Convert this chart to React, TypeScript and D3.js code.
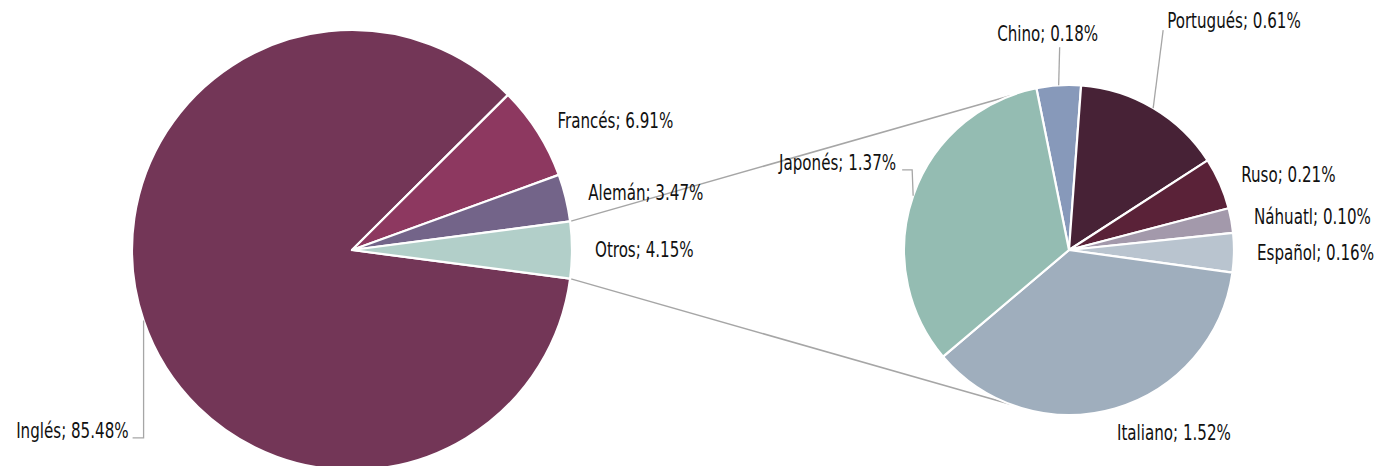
import * as d3 from "d3";

// datos: pie principal
const mainNames = ["Inglés", "Francés", "Alemán", "Otros"];
const mainValues = [85.48, 6.91, 3.47, 4.15];
const mainColors = ["#733657", "#8d3860", "#736489", "#b2cfc9"];

// datos: desglose de "Otros"
const subNames = ["Chino", "Portugués", "Ruso", "Náhuatl", "Español", "Italiano", "Japonés"];
const subValues = [0.18, 0.61, 0.21, 0.1, 0.16, 1.52, 1.37];
const subColors = ["#8799ba", "#472236", "#5a2238", "#a399ab", "#b9c4cf", "#9faebd", "#94bcb2"];

const width = 1377;
const height = 466;
const rad = (deg: number) => (deg * Math.PI) / 180;

const main = { cx: 352, cy: 250, r: 220 };
const sub = { cx: 1069, cy: 250, r: 165, start: -11.4 };
const connectorSpread = 69.2; // grados desde las 9 en punto del pie secundario
const narrow = 0.8; // estrechar la fuente (no hay fuente condensada real)

// etiquetas movidas a mano (relativas al borde del sector)
type Layout = { dx: number; dy: number; anchor: string; leader: [number, number][] };
const labelLayout: Record<string, Layout> = {
  Inglés: { dx: -15, dy: 117.5, anchor: "end", leader: [[0, 0], [0, 117.5], [-11, 117.5]] },
  Chino: { dx: -11, dy: -44, anchor: "middle", leader: [[0, 0], [1, -38]] },
  Portugués: { dx: 14, dy: -80, anchor: "start", leader: [[0, 0], [10, -78]] },
  Japonés: { dx: -17, dy: -26, anchor: "end", leader: [[0, 0], [-1, -26], [-11, -26]] },
  Italiano: { dx: 2, dy: 32, anchor: "start", leader: [] },
};

const fmt = (v: number) => d3.format(".2f")(v) + "%";
const edge = (a: number, r: number) => [r * Math.sin(a), -r * Math.cos(a)];

type Slice = { name: string; value: number; color: string };

function Label({ x, y, anchor, dy, children }: { x: number; y: number; anchor: string; dy?: string; children: string }) {
  return (
    <text transform={`translate(${x},${y}) scale(${narrow},1)`} textAnchor={anchor} dy={dy}>
      {children}
    </text>
  );
}

function PieGroup({ data, cx, cy, r, startAngle }: { data: Slice[]; cx: number; cy: number; r: number; startAngle: number }) {
  const pie = d3
    .pie<Slice>()
    .sort(null)
    .value((d) => d.value)
    .startAngle(startAngle)
    .endAngle(startAngle + 2 * Math.PI);
  const arc = d3.arc<d3.PieArcDatum<Slice>>().innerRadius(0).outerRadius(r);
  const arcs = pie(data);
  const line = d3.line();

  return (
    <g transform={`translate(${cx},${cy})`}>
      {arcs.map((a) => (
        <path key={a.data.name} d={arc(a) || ""} fill={a.data.color} stroke="#fff" strokeWidth={2.2} strokeLinejoin="round" />
      ))}
      {arcs.map((a) => {
        const mid = (a.startAngle + a.endAngle) / 2;
        const [ex, ey] = edge(mid, r);
        const lay = labelLayout[a.data.name];
        const text = `${a.data.name}; ${fmt(a.data.value)}`;
        if (lay) {
          return (
            <g key={a.data.name}>
              {lay.leader.length > 1 && (
                <path
                  d={line(lay.leader.map(([x, y]) => [ex + x, ey + y])) || ""}
                  fill="none"
                  stroke="#a6a6a6"
                  strokeWidth={1.3}
                />
              )}
              <Label x={ex + lay.dx} y={ey + lay.dy} anchor={lay.anchor}>
                {text}
              </Label>
            </g>
          );
        }
        const [lx, ly] = edge(mid, r + 21);
        const right = Math.sin(mid) >= 0;
        return (
          <Label key={a.data.name} x={lx + (right ? 2 : -2)} y={ly} dy="0.35em" anchor={right ? "start" : "end"}>
            {text}
          </Label>
        );
      })}
    </g>
  );
}

export default function App() {
  const mainData = mainNames.map((name, i) => ({ name, value: mainValues[i], color: mainColors[i] }));
  const subData = subNames.map((name, i) => ({ name, value: subValues[i], color: subColors[i] }));

  const total = d3.sum(mainValues);
  const otros = mainValues[mainValues.length - 1];
  // "Otros" centrado a las 3 en punto
  const mainStart = Math.PI / 2 + (otros / total) * Math.PI;
  const otrosA0 = mainStart - (otros / total) * 2 * Math.PI;
  const otrosA1 = mainStart;

  const [ux0, uy0] = edge(otrosA0, main.r);
  const [lx0, ly0] = edge(otrosA1, main.r);
  const [ux1, uy1] = edge(rad(270 + connectorSpread), sub.r);
  const [lx1, ly1] = edge(rad(270 - connectorSpread), sub.r);

  return (
    <svg
      width={width}
      height={height}
      style={{ position: "absolute", left: 0, top: 0, background: "#fff" }}
      fontFamily="'Liberation Sans Narrow', 'DejaVu Sans Condensed', 'Roboto', sans-serif"
      fontSize={21}
      fill="#111"
    >
      <g stroke="#a6a6a6" strokeWidth={1.5}>
        <line x1={main.cx + ux0} y1={main.cy + uy0} x2={sub.cx + ux1} y2={sub.cy + uy1} />
        <line x1={main.cx + lx0} y1={main.cy + ly0} x2={sub.cx + lx1} y2={sub.cy + ly1} />
      </g>
      <PieGroup data={mainData} cx={main.cx} cy={main.cy} r={main.r} startAngle={mainStart} />
      <PieGroup data={subData} cx={sub.cx} cy={sub.cy} r={sub.r} startAngle={rad(sub.start)} />
    </svg>
  );
}
